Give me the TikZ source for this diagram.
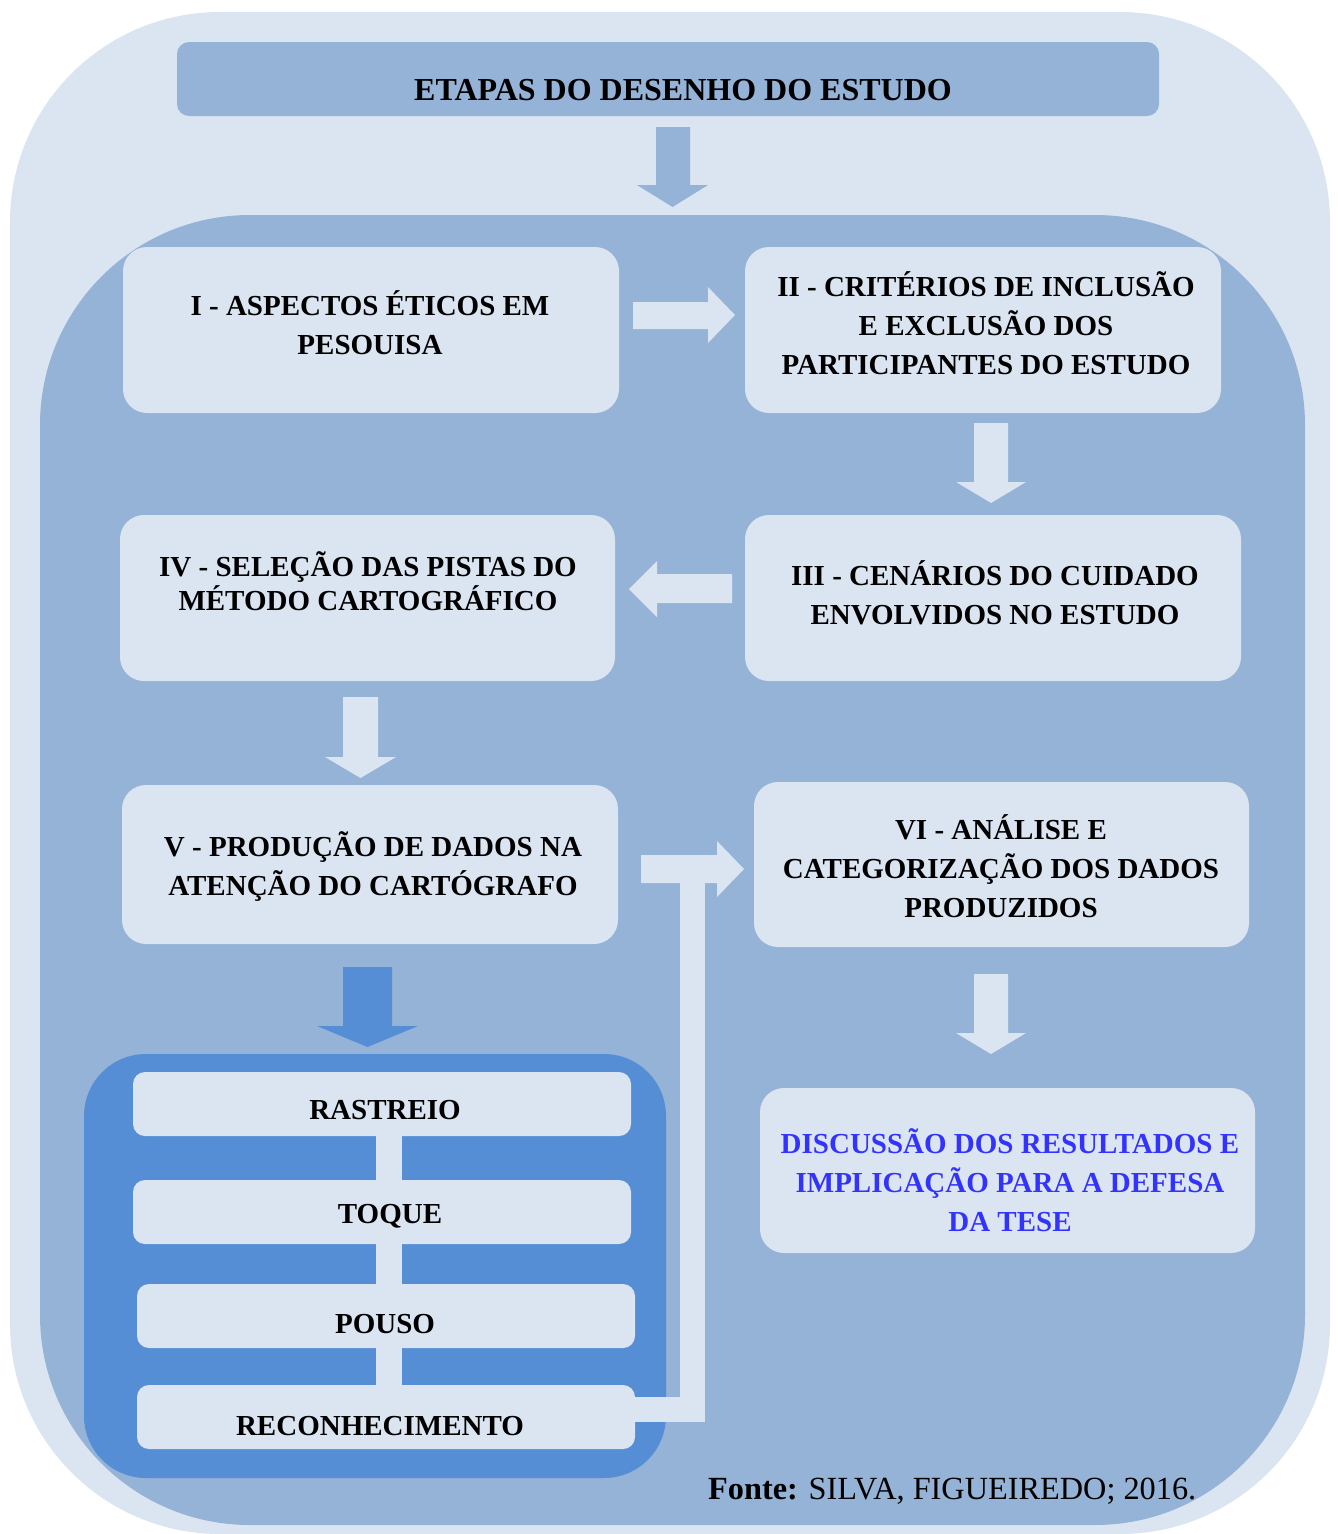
\documentclass[tikz,border=0pt]{standalone}
\usepackage{fontspec}
\setmainfont{Liberation Serif}
\definecolor{lightbg}{HTML}{DBE5F1}
\definecolor{midbg}{HTML}{95B3D7}
\definecolor{darkbg}{HTML}{558ED5}
\definecolor{textblue}{HTML}{3333FF}
\begin{document}
\begin{tikzpicture}[x=1pt,y=-1pt,
  stagebox/.style={fill=lightbg, rounded corners=24pt, inner sep=0pt},
  stagetext/.style={align=center, inner sep=0pt, font=\fontsize{29}{39}\selectfont\bfseries},
  subbox/.style={fill=lightbg, rounded corners=12pt, inner sep=0pt, minimum width=498pt, minimum height=64pt},
  subtext/.style={inner sep=0pt, font=\fontsize{29}{35}\selectfont\bfseries},
  lightarrow/.style={fill=lightbg},
  bar/.style={draw=lightbg, line width=26pt, line join=miter},
]
\useasboundingbox (0,0) rectangle (1338,1534);
% backgrounds
\fill[lightbg, rounded corners=210pt] (10,12) rectangle (1330,1534);
\fill[midbg, rounded corners=210pt] (40,215) rectangle (1305,1525);

% title
\node[fill=midbg, rounded corners=12pt, inner sep=0pt, minimum width=982pt, minimum height=74pt] (title) at (668,79) {};
\node[inner sep=0pt, anchor=base, font=\fontsize{32}{38}\selectfont\bfseries] (titletext) at (683,100.5) {ETAPAS DO DESENHO DO ESTUDO};
\fill[midbg] (656,127) -- (690,127) -- (690,185) -- (708,185) -- (672.5,207) -- (637,185) -- (656,185) -- cycle;

% stage boxes
\node[stagebox, minimum width=496pt, minimum height=166pt] (b1) at (371,330) {};
\node[stagetext] (t1) at (370,323) {I - ASPECTOS ÉTICOS EM\\PESOUISA};
\node[stagebox, minimum width=476pt, minimum height=166pt] (b2) at (983,330) {};
\node[stagetext] (t2) at (986,323) {II - CRITÉRIOS DE INCLUSÃO\\E EXCLUSÃO DOS\\PARTICIPANTES DO ESTUDO};
\node[stagebox, minimum width=496pt, minimum height=166pt] (b3) at (993,598) {};
\node[stagetext] (t3) at (995,593) {III - CENÁRIOS DO CUIDADO\\ENVOLVIDOS NO ESTUDO};
\node[stagebox, minimum width=495pt, minimum height=166pt] (b4) at (367.5,598) {};
\node[stagetext, font=\fontsize{29}{34}\selectfont\bfseries] (t4) at (368,581) {IV - SELEÇÃO DAS PISTAS DO\\MÉTODO CARTOGRÁFICO};
\node[stagebox, minimum width=496pt, minimum height=159pt] (b5) at (370,864.5) {};
\node[stagetext] (t5) at (373,867) {V - PRODUÇÃO DE DADOS NA\\ATENÇÃO DO CARTÓGRAFO};
\node[stagebox, minimum width=495pt, minimum height=165pt] (b6) at (1001.5,864.5) {};
\node[stagetext] (t6) at (1001,866) {VI - ANÁLISE E\\CATEGORIZAÇÃO DOS DADOS\\PRODUZIDOS};
\node[stagebox, minimum width=495pt, minimum height=165pt] (b7) at (1007.5,1170.5) {};
\node[stagetext, text=textblue] (t7) at (1010,1180) {DISCUSSÃO DOS RESULTADOS E\\IMPLICAÇÃO PARA A DEFESA\\DA TESE};

% block arrows between stages
\fill[lightarrow] (633,302) -- (708,302) -- (708,287) -- (735,315) -- (708,343) -- (708,329) -- (633,329) -- cycle;
\fill[lightarrow] (974,423) -- (1008,423) -- (1008,482) -- (1026,482) -- (991,503) -- (956,482) -- (974,482) -- cycle;
\fill[lightarrow] (732,574) -- (657,574) -- (657,561) -- (629,589) -- (657,617) -- (657,603) -- (732,603) -- cycle;
\fill[lightarrow] (343,697) -- (378,697) -- (378,757) -- (396,757) -- (360.5,778) -- (325,757) -- (343,757) -- cycle;
\fill[lightarrow] (974,974) -- (1008,974) -- (1008,1033) -- (1026,1033) -- (991,1054) -- (956,1033) -- (974,1033) -- cycle;
\fill[darkbg] (343,967) -- (392,967) -- (392,1026) -- (418,1026) -- (367.5,1047) -- (317,1026) -- (343,1026) -- cycle;

% cartography container
\fill[darkbg, rounded corners=62pt] (84,1054) rectangle (666,1478);
\coordinate (barx) at (389,0);
\node[subbox] (r1) at (382,1104) {};
\node[subbox] (r2) at (382,1212) {};
\node[subbox] (r3) at (386,1316) {};
\node[subbox] (r4) at (386,1417) {};
\draw[bar] (barx |- r1.south) -- (barx |- r2.north);
\draw[bar] (barx |- r2.south) -- (barx |- r3.north);
\draw[bar] (barx |- r3.south) -- (barx |- r4.north);
\node[subtext] (s1) at (385,1110) {RASTREIO};
\node[subtext] (s2) at (390,1216) {TOQUE};
\node[subtext] (s3) at (385,1324) {POUSO};
\node[subtext] (s4) at (380,1426) {RECONHECIMENTO};

% elbow connector from RECONHECIMENTO to VI
\coordinate (elbow) at (692.5,869);
\draw[draw=lightbg, line width=25pt, line join=miter] ([yshift=7.5pt]r4.east) -- (elbow |- 0,1409.5) -- (elbow);
\fill[lightarrow] (641,855) -- (717,855) -- (717,841) -- (744,869) -- (717,897) -- (717,883) -- (641,883) -- cycle;

% source
\node[inner sep=0pt, anchor=base west, font=\fontsize{32.3}{38}\selectfont] (fonte) at (708,1499.5) {\textbf{Fonte:} SILVA, FIGUEIREDO; 2016.};
\end{tikzpicture}
\end{document}
